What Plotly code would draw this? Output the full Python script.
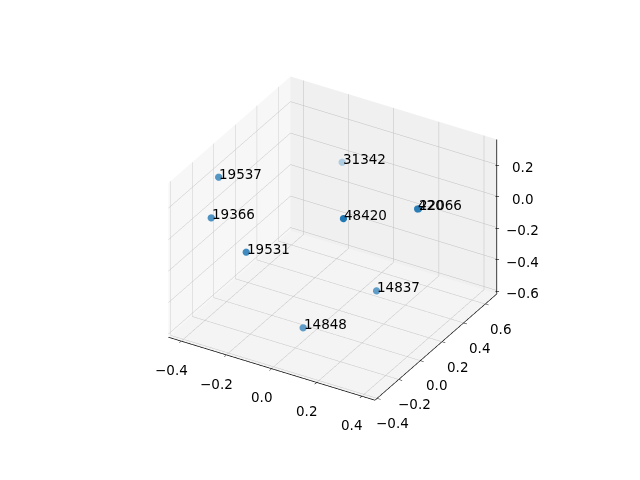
import plotly.graph_objects as go

labels = ["19537", "19366", "19531", "31342", "48420", "420", "22066", "14837", "14848"]
xs = [-0.340, -0.313, -0.138, -0.130, 0.207, 0.420, 0.419, 0.266, 0.061]
ys = [-0.200, -0.325, -0.367, 0.504, -0.188, 0.053, 0.065, -0.005, -0.256]
zs = [0.317, 0.145, 0.029, 0.082, 0.286, 0.296, 0.289, -0.257, -0.431]
shade = [0.75, 0.78, 0.85, 0.32, 1.0, 0.95, 0.94, 0.70, 0.70]

x_range = [-0.457, 0.458]
y_range = [-0.42, 0.71]
z_range = [-0.62, 0.36]
x_ticks = [-0.4, -0.2, 0.0, 0.2, 0.4]
y_ticks = [-0.4, -0.2, 0.0, 0.2, 0.4, 0.6]
z_ticks = [-0.6, -0.4, -0.2, 0.0, 0.2]

BASE = (31, 119, 180)
BG = 244
colors = ["rgb(%d,%d,%d)" % tuple(round(BG + a * (c - BG)) for c in BASE) for a in shade]

FONT = dict(family="DejaVu Sans", size=13.5, color="black")
EPS = 1e-3
x_in = [x_range[0] + EPS, x_range[1] - EPS]
y_in = [y_range[0] + EPS, y_range[1] - EPS]
z_in = [z_range[0] + EPS, z_range[1] - EPS]


def fmt(v):
    s = f"{abs(v):.1f}"
    return ("\u2212" + s) if v < -1e-9 else s


fig = go.Figure()
fig.add_trace(go.Scatter3d(
    x=xs, y=ys, z=zs, mode="markers",
    marker=dict(size=4.2, color=colors, line=dict(width=0)),
    hoverinfo="skip",
))
# z axis line on the right-hand edge, as in the reference
fig.add_trace(go.Scatter3d(
    x=[x_in[1], x_in[1]], y=[y_in[1], y_in[1]], z=z_range,
    mode="lines", line=dict(color="black", width=1.5), hoverinfo="skip",
))

annotations = []
for t, x, y, z in zip(labels, xs, ys, zs):
    annotations.append(dict(x=x, y=y, z=z, text=t, showarrow=False,
                            xanchor="left", yanchor="middle", xshift=-1.5, yshift=3.5,
                            font=FONT))
for v in x_ticks:
    annotations.append(dict(x=v, y=y_in[0], z=z_in[0], text=fmt(v), showarrow=False,
                            xanchor="center", yanchor="middle", xshift=-10, yshift=-29,
                            font=FONT))
for v in y_ticks:
    annotations.append(dict(x=x_in[1], y=v, z=z_in[0], text=fmt(v), showarrow=False,
                            xanchor="center", yanchor="middle", xshift=16, yshift=-25,
                            font=FONT))
for v in z_ticks:
    annotations.append(dict(x=x_in[1], y=y_in[1], z=v, text=fmt(v), showarrow=False,
                            xanchor="center", yanchor="middle", xshift=25.5, yshift=-2.5,
                            font=FONT))
    annotations.append(dict(x=x_in[1], y=y_in[1], z=v, text="\u2013", showarrow=False,
                            xanchor="center", yanchor="middle", xshift=1, yshift=0,
                            font=dict(family="DejaVu Sans", size=9, color="black")))


def ax(rng, bg, line=True):
    return dict(
        range=rng, dtick=0.2, tick0=0, tickformat=".1f",
        title=dict(text=""),
        showticklabels=False,
        showbackground=True, backgroundcolor=bg,
        gridcolor="#c0c0c0", gridwidth=1,
        showline=line, linecolor="black", linewidth=1.5,
        ticks="outside" if line else "", tickcolor="black", ticklen=4,
        zeroline=False, showspikes=False,
    )


fig.update_layout(
    width=640, height=480,
    margin=dict(l=0, r=0, t=0, b=0),
    paper_bgcolor="white",
    showlegend=False,
    font=dict(family="DejaVu Sans"),
    scene=dict(
        domain=dict(x=[0.0, 1.0], y=[0.0, 1.0]),
        xaxis=ax(x_range, "rgb(247,247,247)"),
        yaxis=ax(y_range, "rgb(240,240,240)"),
        zaxis=ax(z_range, "rgb(244,244,244)", line=False),
        aspectmode="manual",
        aspectratio=dict(x=1, y=1, z=0.75),
        camera=dict(
            eye=dict(x=0.433 * 2.2, y=-0.75 * 2.2, z=0.5 * 2.2),
            up=dict(x=0, y=0, z=1),
            center=dict(x=-0.017, y=-0.01, z=-0.047),
            projection=dict(type="orthographic"),
        ),
        annotations=annotations,
    ),
)

fig.write_html("out.html", config={"displayModeBar": False})
